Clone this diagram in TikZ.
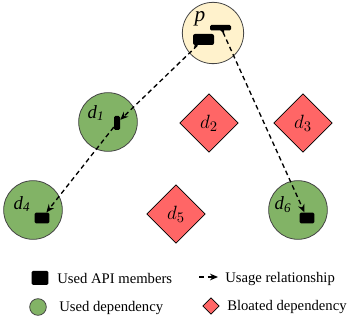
\documentclass[tikz,border=0pt]{standalone}
\usepackage{fontspec}
\setmainfont{Liberation Serif}
\usetikzlibrary{arrows.meta,shapes.geometric}
\definecolor{usedgreen}{HTML}{82B366}
\definecolor{bloatred}{HTML}{FF6666}
\definecolor{rootyellow}{HTML}{FFF2CC}
\definecolor{rimgrey}{HTML}{444444}
\tikzset{
  px/.style={x=0.75pt,y=-0.75pt},
  depcircle/.style={circle,draw=rimgrey,line width=0.6pt,fill=usedgreen,minimum size=44pt,inner sep=0pt},
  rootcircle/.style={circle,draw=rimgrey,line width=0.6pt,fill=rootyellow,minimum size=46pt,inner sep=0pt},
  bloat/.style={diamond,draw=black,line width=0.5pt,fill=bloatred,minimum size=44pt,inner sep=0pt,font=\fontsize{15}{15}\selectfont},
  apibox/.style={fill=black,rounded corners=1pt,inner sep=0pt},
  usage/.style={dashed,dash pattern=on 3.5pt off 2.5pt,line width=1pt,-{Stealth[length=6pt,width=5pt]}},
  circlabel/.style={font=\fontsize{14}{14}\selectfont\itshape,inner sep=0pt},
  legtext/.style={font=\fontsize{11}{11}\selectfont,anchor=west,inner sep=0pt}
}
\begin{document}
\begin{tikzpicture}[px]
\useasboundingbox (0,0) rectangle (347,320);

% root package
\node[rootcircle] (p) at (213,33) {};
\node[circlabel,font=\fontsize{16}{16}\selectfont\itshape] (plab) at (200,19) {p};
\fill[black,rounded corners=1.5pt] (193,34) rectangle (214,45);
\fill[black] (195,44) -- (199,44) -- (194,48) -- cycle;
\node[inner sep=0pt,minimum width=8pt,minimum height=8pt] (pa) at (203,40) {};
\fill[black,rounded corners=1pt] (210,25) rectangle (231,30.5);
\fill[black] (220,30) -- (224,30) -- (224,34) -- cycle;
\node[inner sep=0pt,minimum width=8pt,minimum height=3pt] (pb) at (222,30) {};

% used dependencies
\node[depcircle] (d1) at (108,122) {};
\node[circlabel] at (96,113) {d\textsubscript{1}};
\node[apibox,minimum width=4.5pt,minimum height=10.5pt] (a1) at (117,123) {};

\node[depcircle] (d4) at (33,210) {};
\node[circlabel] at (22,204) {d\textsubscript{4}};
\node[apibox,minimum width=11pt,minimum height=8pt] (a4) at (42,218) {};

\node[depcircle] (d6) at (298,210) {};
\node[circlabel] at (283,205) {d\textsubscript{6}};
\node[apibox,minimum width=11pt,minimum height=8pt] (a6) at (307,218) {};

% bloated dependencies
\node[bloat] (d2) at (209,123) {$d_2$};
\node[bloat] (d3) at (303,123) {$d_3$};
\node[bloat] (d5) at (176,214) {$d_5$};

% usage relationships
\draw[usage] (pa) -- (a1);
\draw[usage] (a1) -- (a4);
\draw[usage] (pb) -- (a6);

% legend
\node[apibox,minimum width=12.5pt,minimum height=10.5pt] (lk1) at (40,278) {};
\node[legtext] (lt1) at (57,278) {Used API members};
\coordinate (la0) at (199,277);
\coordinate (la1) at (218,277);
\draw[usage,dash pattern=on 4pt off 2.5pt] (la0) -- (la1);
\node[legtext] (lt2) at (225,279) {Usage relationship};
\node[circle,draw=rimgrey,line width=0.6pt,fill=usedgreen,minimum size=12.5pt,inner sep=0pt] (lk3) at (38,307) {};
\node[legtext] (lt3) at (59,308) {Used dependency};
\node[diamond,draw=black,line width=0.5pt,fill=bloatred,minimum size=12.5pt,inner sep=0pt] (lk4) at (211,306) {};
\node[legtext] (lt4) at (227,307) {Bloated dependency};
\end{tikzpicture}
\end{document}
